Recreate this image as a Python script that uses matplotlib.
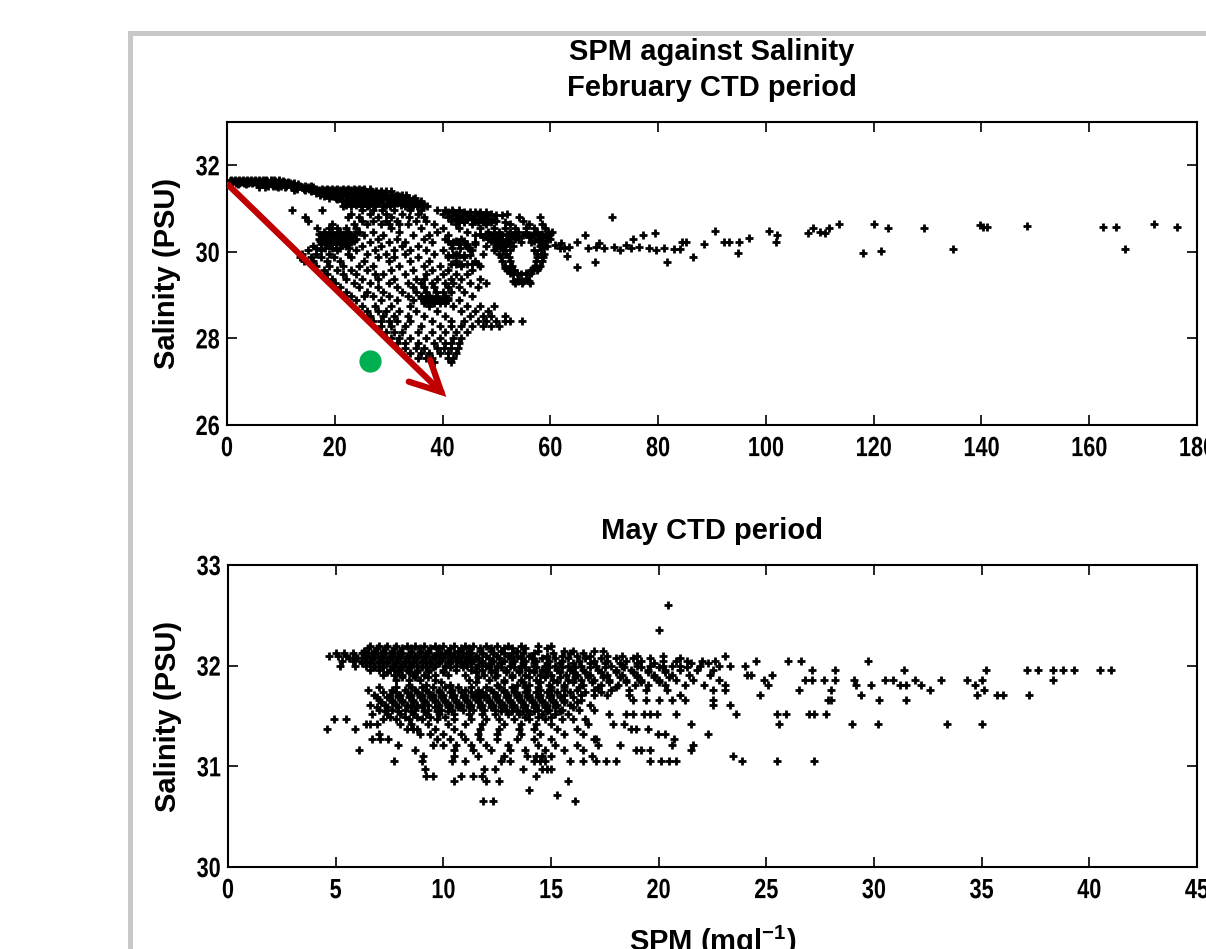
import matplotlib
matplotlib.use("Agg")
import matplotlib.pyplot as plt
from matplotlib.patches import Rectangle, FancyArrowPatch, ArrowStyle
from matplotlib.patheffects import AbstractPathEffect
from matplotlib.transforms import Affine2D

FONT = ['Liberation Sans', 'DejaVu Sans']
plt.rcParams['font.family'] = FONT
plt.rcParams['font.weight'] = 'bold'
plt.rcParams['mathtext.fontset'] = 'custom'
plt.rcParams['mathtext.rm'] = 'Liberation Sans:bold'
plt.rcParams['mathtext.bf'] = 'Liberation Sans:bold'

# ---------------- February CTD period (SPM mg/l vs salinity PSU) ----------------
feb_sal_levels = [31.66, 31.61, 31.56, 31.49, 31.43, 31.36, 31.29, 31.21, 31.13, 31.05,
                  30.96, 30.88, 30.80, 30.72, 30.64, 30.55, 30.47, 30.38, 30.30, 30.22,
                  30.14, 30.05, 29.96, 29.87, 29.78, 29.68, 29.58, 29.48, 29.38, 29.29,
                  29.18, 29.08, 28.98, 28.88, 28.76, 28.64, 28.52, 28.40, 28.28, 28.15,
                  28.02, 27.90, 27.78, 27.66, 27.55, 27.45,
                  31.63, 31.58, 31.52, 31.46, 31.40, 31.32, 31.25, 31.17, 31.09,
                  30.42, 30.34, 30.26, 30.18, 30.10, 30.92, 30.84, 30.76, 30.68,
                  28.93, 28.82, 29.72, 29.92, 29.33, 29.52, 29.62]
feb_spm_rows = [
    [0.8, 1.5, 2.2, 3.0, 3.7, 4.4, 5.2, 5.9, 6.6, 7.3, 8.1, 8.8, 9.6],
    [1.0, 1.8, 2.6, 3.4, 4.2, 5.0, 5.8, 6.6, 7.4, 8.2, 9.0, 9.8, 10.6, 11.4],
    [2.0, 3.5, 5.5, 6.4, 7.2, 8.4, 9.4, 10.5, 11.5, 12.3, 13.2],
    [6.0, 7.0, 9.5, 10.8, 12.0, 13.0, 14.0, 15.0, 16.0],
    [12.5, 14.5, 15.8, 17.0, 18.2, 19.0, 20.0, 21.0, 22.0, 23.0, 24.0, 25.0],
    [16.5, 17.5, 18.5, 19.8, 21.2, 22.5, 23.3, 24.2, 25.2, 26.2, 27.0, 28.0, 29.0],
    [18.0, 19.5, 21.0, 22.2, 23.0, 23.8, 24.6, 25.4, 26.3, 27.2, 28.2, 29.3, 30.3, 31.2, 32.0],
    [20.5, 22.0, 23.0, 23.8, 24.6, 25.5, 26.5, 27.5, 29.0, 30.5, 31.5, 32.5, 33.5, 34.5],
    [22.5, 23.5, 24.5, 25.5, 26.8, 28.0, 30.0, 31.5, 32.8, 33.8, 34.8, 35.8],
    [21.5, 23.0, 24.8, 26.0, 27.5, 29.0, 30.2, 33.0, 34.2, 35.2, 36.4, 37.2],
    [12.0, 17.6, 25.0, 27.0, 28.8, 31.0, 34.0, 36.0, 39.0, 40.5, 41.8, 43.0],
    [23.0, 26.5, 29.5, 32.5, 35.5, 40.0, 42.5, 44.5, 46.5, 49.0, 52.0],
    [14.5, 22.5, 24.5, 28.0, 30.5, 33.8, 36.5, 41.0, 43.5, 45.0, 47.5, 54.2, 58.0],
    [15.1, 25.0, 27.0, 29.5, 31.5, 35.0, 37.0, 41.5, 44.0, 46.0, 50.0, 55.0],
    [19.5, 23.5, 26.0, 28.5, 30.0, 32.0, 33.5, 38.5, 42.5, 45.5, 48.0, 52.5, 56.0, 58.5],
    [16.7, 19.0, 20.5, 22.0, 24.0, 30.5, 36.0, 40.0, 43.0, 47.0, 49.5, 51.5, 53.5, 55.5, 57.0, 59.0],
    [18.0, 19.5, 21.0, 22.5, 24.5, 27.0, 32.0, 39.0, 44.5, 48.5, 50.5, 52.5, 54.0, 55.5, 57.5, 59.5, 60.3],
    [17.5, 18.8, 20.0, 21.5, 23.0, 25.5, 29.0, 34.5, 37.5, 41.0, 46.0, 49.0, 51.0, 53.0, 55.0, 56.5, 58.0, 59.5],
    [17.0, 18.5, 20.5, 22.0, 24.0, 28.0, 31.5, 36.5, 40.5, 43.5, 48.5, 50.0, 51.8, 53.5, 57.5, 60.0],
    [18.0, 19.5, 21.0, 23.0, 26.5, 30.0, 33.0, 38.0, 42.0, 46.0, 49.5, 51.0, 52.5, 54.5, 56.5, 58.5],
    [16.0, 19.0, 22.0, 25.0, 28.5, 32.5, 35.5, 44.5, 48.0, 50.0, 51.5, 53.0, 58.0, 59.3],
    [15.0, 17.5, 20.5, 24.0, 27.5, 31.0, 34.0, 37.0, 40.0, 45.5, 49.5, 51.2, 52.5, 57.0, 58.3],
    [14.0, 16.5, 19.0, 22.5, 26.0, 29.5, 33.0, 38.5, 42.5, 47.5, 50.5, 51.8, 57.5, 58.8],
    [13.6, 15.5, 17.5, 19.8, 23.0, 28.0, 31.0, 35.5, 41.0, 44.0, 50.8, 52.3, 57.5, 58.6],
    [14.2, 16.0, 18.5, 21.0, 25.5, 30.0, 34.0, 37.5, 42.5, 46.0, 51.0, 52.5, 57.4, 58.5],
    [16.5, 19.0, 21.5, 24.5, 27.0, 32.0, 36.5, 39.5, 43.5, 47.0, 51.5, 52.8, 57.2, 58.0],
    [18.0, 20.5, 23.0, 26.0, 30.5, 34.5, 38.0, 41.0, 45.5, 52.0, 53.3, 56.5, 57.5],
    [18.5, 21.5, 24.0, 27.5, 29.0, 33.0, 37.0, 40.0, 42.5, 44.5, 53.0, 54.5, 56.0],
    [19.5, 22.0, 25.0, 28.0, 31.0, 35.0, 36.5, 39.0, 41.5, 43.5, 47.0, 54.0, 55.5],
    [20.0, 23.5, 26.5, 30.0, 33.5, 36.0, 38.0, 40.5, 42.0, 45.0, 48.0, 53.5, 54.8, 56.2],
    [21.0, 24.5, 28.0, 31.5, 34.5, 36.5, 38.5, 41.0, 43.0, 46.5],
    [22.0, 26.0, 29.0, 32.5, 35.0, 37.0, 38.8, 40.0, 41.5, 44.0],
    [23.0, 25.5, 27.0, 30.0, 33.5, 36.0, 37.5, 39.0, 40.5, 45.5],
    [24.0, 28.5, 31.5, 34.5, 36.5, 38.0, 39.5, 41.0, 43.0],
    [25.0, 27.5, 30.5, 34.0, 37.5, 42.0, 44.5, 47.0, 49.5],
    [26.0, 28.0, 29.5, 32.0, 35.0, 39.0, 43.5, 46.0, 48.5],
    [26.5, 29.0, 31.0, 33.5, 36.5, 40.5, 45.0, 47.5, 49.0, 51.5],
    [27.0, 28.5, 30.0, 31.5, 34.0, 38.0, 41.5, 44.0, 46.5, 48.0, 50.0, 51.5, 52.5, 54.7],
    [28.5, 30.5, 33.0, 36.0, 39.5, 41.5, 43.5, 45.5, 47.5, 49.0, 50.5],
    [29.5, 31.0, 32.5, 35.5, 38.0, 40.5, 42.5, 44.5],
    [30.5, 32.0, 34.0, 37.0, 39.5, 42.0, 43.5],
    [31.5, 33.0, 35.5, 38.5, 40.5, 41.5, 43.0],
    [33.0, 35.0, 36.5, 39.0, 40.2, 41.5, 42.8],
    [34.0, 36.0, 37.5, 39.5, 41.0, 42.5],
    [35.5, 37.0, 38.0, 41.0, 42.0],
    [38.5, 41.5],
    [0.5, 1.2, 1.9, 2.6, 3.3, 4.0, 4.7, 5.4, 6.1, 6.8, 7.5, 8.2, 8.9, 9.6, 10.3],
    [0.9, 1.6, 2.3, 3.1, 3.9, 4.7, 5.5, 6.2, 7.0, 7.8, 8.6, 9.3, 10.1, 10.9, 11.7, 12.5],
    [7.7, 8.5, 9.0, 10.0, 11.0, 11.8, 12.6, 13.5, 14.5, 15.5],
    [13.0, 14.2, 15.3, 16.5, 17.6, 18.6, 19.5, 20.5, 21.5, 22.5, 23.5, 24.5, 25.5, 26.5],
    [15.5, 16.8, 17.8, 19.0, 20.2, 21.6, 22.8, 23.7, 24.7, 25.7, 26.7, 27.6, 28.5, 29.5, 30.5],
    [17.2, 18.2, 19.2, 20.4, 22.0, 22.9, 23.7, 24.5, 25.3, 26.0, 26.8, 27.6, 28.6, 29.6, 30.6, 31.6, 32.5, 33.2],
    [19.0, 20.3, 22.6, 23.4, 24.2, 25.0, 25.8, 26.7, 27.8, 28.8, 29.8, 30.8, 31.8, 32.8, 33.8, 34.8],
    [21.3, 22.8, 23.6, 24.4, 25.2, 26.0, 26.9, 28.4, 30.0, 31.0, 32.0, 33.0, 34.0, 35.0, 36.0],
    [22.0, 24.0, 25.0, 26.4, 27.0, 29.5, 31.0, 32.3, 33.5, 34.5, 35.5, 36.5],
    [17.0, 18.2, 19.2, 20.6, 21.8, 22.6, 23.5, 47.0, 48.0, 49.5, 50.5, 52.0, 53.5, 55.5, 57.0, 58.5, 60.0],
    [17.8, 19.0, 20.2, 21.2, 22.4, 23.4, 47.5, 49.5, 50.5, 52.5, 54.0, 56.0, 58.5, 59.5],
    [17.2, 18.2, 19.2, 20.0, 21.5, 22.5, 23.6, 41.0, 42.5, 44.0, 49.0, 50.5, 52.0, 57.0, 58.0, 59.0],
    [17.5, 18.6, 20.2, 21.4, 22.5, 41.5, 43.0, 44.5, 46.0, 50.5, 51.8, 58.3],
    [16.5, 18.2, 19.5, 21.0, 22.6, 41.8, 43.2, 44.8, 50.0, 51.0, 58.5],
    [41.0, 42.0, 44.0, 45.0, 46.0, 47.0, 48.0],
    [42.0, 43.0, 44.0, 46.0, 48.0, 50.0, 51.0],
    [42.5, 44.5, 45.5, 47.0, 48.5, 49.5],
    [43.0, 44.0, 46.5, 47.5, 49.0, 51.5],
    [36.0, 37.0, 38.0, 39.0, 40.0, 41.0],
    [36.5, 37.5, 38.5, 39.5, 40.5],
    [41.5, 42.5, 43.5, 44.5, 45.5, 46.5],
    [41.0, 42.0, 43.0, 44.0, 45.0],
    [53.0, 54.0, 55.0, 56.0],
    [52.5, 53.8, 55.5, 56.5],
    [51.5, 52.5, 56.8, 57.8],
]
feb_tail_spm = [60.8, 61.8, 62.0, 62.5, 63.0, 63.5, 64.9, 64.9, 66.4, 67.0, 68.2, 68.5, 69.0,
                70.0, 71.5, 71.9, 73.0, 74.0, 75.0, 75.3, 76.5, 77.2, 78.4, 79.4, 79.6,
                81.0, 81.6, 83.0, 84.1, 84.5, 85.2, 86.4, 88.6, 90.6, 92.2, 93.2, 94.9,
                95.1, 96.8, 100.6, 101.8, 102.1, 107.9, 108.8, 110.0, 110.9, 111.8, 113.5,
                118.1, 120.1, 121.4, 122.7, 129.4, 134.7, 139.8, 140.3, 141.0, 148.5,
                162.5, 165.0, 166.6, 172.0, 176.2]
feb_tail_sal = [30.15, 30.08, 30.20, 30.10, 29.90, 30.12, 30.23, 29.64, 30.39, 30.10, 29.77, 30.12, 30.20,
                30.10, 30.80, 30.12, 30.05, 30.15, 30.08, 30.29, 30.12, 30.39, 30.08, 30.44, 30.05,
                30.10, 29.77, 30.06, 30.06, 30.23, 30.23, 29.87, 30.18, 30.49, 30.23, 30.23, 29.98,
                30.23, 30.33, 30.49, 30.23, 30.39, 30.43, 30.54, 30.47, 30.43, 30.54, 30.64,
                29.98, 30.64, 30.03, 30.54, 30.54, 30.07, 30.62, 30.58, 30.58, 30.60,
                30.58, 30.58, 30.07, 30.64, 30.58]

# ---------------- May CTD period ----------------
may_sal_levels = [32.20, 32.15, 32.10, 32.05, 32.00, 31.96, 31.91, 31.86, 31.81, 31.76,
                  31.71, 31.66, 31.61, 31.56, 31.52, 31.47, 31.42, 31.37, 31.32, 31.27,
                  31.21, 31.16, 31.10, 31.05, 30.97, 30.90, 30.85, 30.76, 30.72, 30.66,
                  32.60, 32.35,
                  32.175, 32.125, 32.075, 32.025, 31.985, 31.935, 31.885, 31.835,
                  31.785, 31.735, 31.685, 31.635, 31.585, 31.545, 31.495]
may_spm_rows = [
    [6.6, 7.0, 7.4, 7.8, 8.3, 8.7, 9.1, 9.6, 10.0, 10.5, 11.0, 11.4, 12.0, 12.5, 13.0, 13.6, 14.4, 15.0],
    [6.3, 6.8, 7.2, 7.6, 8.0, 8.5, 8.9, 9.3, 9.8, 10.2, 10.7, 11.2, 11.7, 12.2, 12.7, 13.4, 14.4, 15.6, 16.0, 17.0, 17.4],
    [4.7, 5.1, 5.5, 5.9, 6.3, 6.7, 7.1, 7.5, 7.9, 8.3, 8.7, 9.1, 9.5, 9.9, 10.3, 10.7, 11.1, 11.5, 12.0, 12.5,
     13.0, 13.4, 14.0, 14.8, 15.5, 16.2, 16.8, 17.6, 18.3, 19.0, 20.2, 23.1],
    [5.3, 5.8, 6.2, 6.6, 7.0, 7.4, 7.8, 8.2, 8.6, 9.0, 9.4, 9.8, 10.2, 10.6, 11.0, 11.4, 11.8, 12.3, 12.8, 13.3,
     13.8, 14.3, 14.9, 15.5, 16.3, 17.0, 17.6, 18.5, 19.2, 20.2, 20.8, 21.3, 22.0, 22.6, 24.5, 26.0, 26.6, 29.7],
    [5.2, 5.9, 6.4, 6.8, 7.2, 7.6, 8.0, 8.4, 8.8, 9.2, 9.6, 10.1, 10.6, 11.1, 11.6, 12.0, 12.5, 13.1, 13.6, 14.2,
     14.7, 15.2, 15.8, 16.4, 17.1, 17.8, 18.3, 19.0, 19.6, 20.2, 20.6, 21.0, 21.9, 22.8, 23.3, 24.0],
    [6.6, 7.0, 7.5, 7.9, 8.3, 8.8, 9.3, 10.0, 10.6, 11.3, 11.8, 12.4, 12.9, 13.5, 14.0, 14.6, 15.3, 15.9, 16.5,
     17.2, 18.0, 18.7, 19.5, 20.3, 21.0, 21.8, 22.5, 27.1, 28.2, 31.4, 35.2, 37.1, 37.6, 38.3, 38.8, 39.3, 40.5, 41.0],
    [7.2, 7.7, 8.1, 8.6, 9.1, 9.6, 10.2, 11.0, 11.9, 12.5, 13.2, 13.8, 14.5, 15.0, 15.7, 16.2, 16.8, 17.6, 18.3,
     19.0, 19.8, 20.6, 21.4, 22.4, 24.1, 24.3, 25.25],
    [7.8, 8.4, 8.9, 9.6, 11.2, 12.1, 12.8, 13.6, 14.3, 15.1, 15.8, 16.4, 17.0, 17.7, 18.5, 19.2, 20.0, 20.8,
     21.6, 22.8, 24.9, 26.8, 27.1, 27.7, 28.2, 29.05, 30.5, 30.9, 31.9, 33.1, 34.3, 35.0, 38.3],
    [8.4, 9.2, 10.3, 12.5, 13.4, 14.0, 14.9, 15.6, 16.5, 17.3, 18.1, 18.9, 19.5, 20.3, 21.2, 22.1, 23.1, 25.1,
     29.15, 29.85, 31.2, 31.5, 32.2, 34.7],
    [6.5, 7.6, 8.2, 8.7, 9.2, 9.8, 10.4, 11.0, 11.6, 12.2, 12.8, 13.3, 13.9, 14.5, 15.0, 15.6, 16.2, 17.0, 17.8,
     18.6, 19.4, 20.4, 22.5, 23.1, 26.5, 28.0, 32.6, 35.1],
    [6.8, 7.5, 8.0, 8.5, 9.0, 9.5, 10.0, 10.5, 11.0, 11.5, 11.7, 12.0, 12.5, 13.0, 13.5, 14.0, 14.5, 15.0, 15.6,
     16.4, 17.0, 17.6, 18.6, 21.0, 24.7, 29.4, 34.8, 35.7, 36.0, 37.2],
    [7.0, 7.6, 8.1, 8.6, 9.1, 9.6, 10.1, 10.6, 11.1, 11.6, 12.1, 12.6, 13.1, 13.6, 14.1, 14.6, 15.1, 15.6, 16.4,
     18.8, 19.4, 20.0, 20.6, 21.2, 22.5, 27.85, 28.0, 30.25, 31.5],
    [6.6, 7.3, 7.8, 8.3, 8.8, 9.3, 9.8, 10.3, 10.8, 11.3, 11.8, 12.3, 12.8, 13.3, 13.8, 14.3, 14.8, 15.3, 15.9,
     16.8, 22.5, 23.3],
    [7.0, 7.6, 8.2, 8.7, 9.3, 9.9, 10.4, 10.9, 11.4, 11.9, 12.4, 12.9, 13.4, 13.9, 14.4, 14.9, 15.5, 16.3, 17.0],
    [6.7, 7.4, 8.0, 8.6, 9.2, 9.8, 10.5, 11.2, 11.8, 12.4, 13.0, 13.5, 14.0, 14.6, 15.2, 15.8, 17.7, 18.5, 18.8,
     19.3, 19.6, 19.9, 20.8, 23.6, 25.5, 25.9, 27.0, 27.2, 27.75],
    [4.9, 5.5, 7.2, 7.8, 8.4, 9.0, 9.7, 10.5, 11.3, 12.0, 12.6, 13.3, 14.0, 14.7, 15.5, 16.0, 16.6],
    [6.4, 6.6, 6.9, 8.0, 8.5, 9.3, 10.2, 11.0, 11.8, 12.8, 13.6, 14.3, 15.0, 16.7, 17.9, 18.4, 21.5, 25.6,
     29.0, 30.2, 33.4, 35.0],
    [4.6, 5.9, 8.3, 8.6, 8.8, 9.6, 10.5, 11.7, 12.6, 13.5, 14.2, 15.3, 16.2, 18.7, 18.95, 19.5],
    [7.0, 8.9, 9.4, 10.0, 10.8, 11.6, 12.5, 13.6, 14.5, 15.6, 16.5, 19.97, 20.3, 22.3],
    [6.7, 7.05, 7.44, 9.7, 10.3, 11.0, 11.7, 12.5, 13.4, 14.2, 15.0, 17.0, 17.1, 20.7],
    [7.9, 9.5, 10.0, 10.6, 11.3, 12.0, 13.0, 14.4, 15.2, 16.2, 17.2, 18.2, 20.6, 21.6],
    [6.1, 8.7, 10.5, 11.4, 12.2, 13.1, 13.8, 14.7, 15.6, 16.5, 18.95, 19.2, 19.6, 21.5],
    [9.07, 10.5, 11.6, 12.8, 13.9, 14.3, 14.6, 15.0, 16.9, 23.45],
    [7.7, 9.0, 10.4, 11.0, 12.7, 13.1, 14.2, 14.5, 14.7, 15.9, 16.5, 17.1, 17.55, 18.0, 19.6, 20.1, 20.5, 20.8,
     23.86, 25.5, 27.2],
    [9.15, 11.9, 12.4, 13.7, 14.6, 14.8, 15.0],
    [9.2, 9.5, 10.8, 11.4, 11.8, 14.3],
    [10.5, 12.0, 12.6, 15.8],
    [14.0],
    [15.3],
    [11.86, 12.3, 16.1],
    [20.43],
    [20.0],
    [6.5, 6.9, 7.3, 7.7, 8.1, 8.5, 8.9, 9.4, 9.8, 10.3, 10.8, 11.2, 11.7, 12.2, 12.8, 13.2, 13.8, 14.8],
    [5.0, 5.4, 5.8, 6.2, 6.5, 6.9, 7.3, 7.7, 8.1, 8.5, 8.9, 9.3, 9.7, 10.1, 10.5, 10.9, 11.3, 11.8, 12.3,
     12.8, 13.2, 13.7, 14.2, 15.1, 15.9, 16.5],
    [5.6, 6.0, 6.4, 6.8, 7.2, 7.6, 8.0, 8.4, 8.8, 9.2, 9.6, 10.0, 10.4, 10.8, 11.2, 11.6, 12.1, 12.6, 13.1,
     13.6, 14.1, 14.6, 15.2, 15.8, 16.6, 17.3, 18.0, 18.8, 19.6, 21.0],
    [6.2, 6.6, 7.0, 7.4, 7.8, 8.2, 8.6, 9.0, 9.4, 9.8, 10.3, 10.8, 11.3, 11.8, 12.2, 12.7, 13.2, 13.7, 14.2,
     14.8, 15.4, 16.0, 16.8, 17.5, 18.2, 19.0, 19.8, 21.5, 22.3],
    [6.8, 7.2, 7.7, 8.1, 8.5, 9.0, 9.5, 10.3, 10.9, 11.5, 12.1, 12.7, 13.3, 13.8, 14.3, 14.9, 15.5, 16.1,
     16.8, 17.5, 18.4, 19.2, 20.0, 21.3],
    [7.4, 7.9, 8.4, 8.8, 9.3, 10.0, 11.5, 12.2, 12.9, 13.5, 14.2, 14.8, 15.4, 16.0, 16.6, 17.3, 18.0, 18.8,
     19.5, 20.3],
    [8.1, 8.7, 9.3, 11.6, 12.4, 13.2, 14.0, 14.7, 15.4, 16.1, 16.7, 17.4, 18.2, 19.0, 19.8, 20.5],
    [9.9, 11.5, 12.8, 13.7, 14.5, 15.3, 16.0, 16.9, 17.7, 18.5, 19.2, 20.0],
    [7.0, 7.8, 8.5, 9.0, 9.5, 10.1, 10.7, 11.3, 12.0, 12.6, 13.2, 13.8, 14.4, 15.0, 15.6, 16.3, 17.2, 18.0],
    [7.2, 7.8, 8.3, 8.8, 9.3, 9.8, 10.3, 10.8, 11.3, 11.8, 12.3, 12.8, 13.3, 13.8, 14.3, 14.8, 15.3, 15.9,
     16.6, 17.3],
    [6.9, 7.4, 7.9, 8.4, 8.9, 9.4, 9.9, 10.4, 10.9, 11.4, 11.9, 12.4, 12.9, 13.4, 13.9, 14.4, 14.9, 15.4, 16.0],
    [7.1, 7.6, 8.1, 8.6, 9.1, 9.6, 10.1, 10.6, 11.1, 11.6, 12.1, 12.6, 13.1, 13.6, 14.1, 14.6, 15.1, 15.6, 16.2],
    [6.9, 7.4, 7.9, 8.5, 9.0, 9.6, 10.2, 10.7, 11.2, 11.7, 12.2, 12.7, 13.2, 13.7, 14.2, 14.7, 15.2, 16.0],
    [7.3, 7.9, 8.5, 9.1, 9.7, 10.2, 12.7, 13.2, 13.7, 14.2, 14.8, 15.4],
    [7.5, 8.2, 8.8, 9.4, 10.1, 13.8, 14.4, 15.0],
]

feb_spm = [v for row in feb_spm_rows for v in row] + feb_tail_spm
feb_sal = [s for s, row in zip(feb_sal_levels, feb_spm_rows) for _ in row] + feb_tail_sal
may_spm = [v for row in may_spm_rows for v in row]
may_sal = [s for s, row in zip(may_sal_levels, may_spm_rows) for _ in row]

# annotations drawn over the February panel
arrow_start = (0.2, 31.55)
arrow_end = (40.7, 26.65)
dot_point = (26.6, 27.48)

feb_xticks = [0, 20, 40, 60, 80, 100, 120, 140, 160, 180]
feb_yticks = [26, 28, 30, 32]
may_xticks = [0, 5, 10, 15, 20, 25, 30, 35, 40, 45]
may_yticks = [30, 31, 32, 33]


class Squeeze(AbstractPathEffect):
    """Horizontally condense glyphs (MATLAB-like narrow bold labels)."""
    def __init__(self, sx, anchor='center'):
        super().__init__()
        self.sx = sx
        self.anchor = anchor

    def draw_path(self, renderer, gc, tpath, affine, rgbFace=None):
        ext = tpath.get_extents()
        if self.anchor == 'right':
            cx = ext.x1
        elif self.anchor == 'left':
            cx = ext.x0
        else:
            cx = 0.5 * (ext.x0 + ext.x1)
        t = Affine2D().translate(-cx, 0).scale(self.sx, 1).translate(cx, 0) + affine
        renderer.draw_path(gc, tpath, t, rgbFace)


W, H = 1206, 949
fig = plt.figure(figsize=(W / 100, H / 100), dpi=100)
fig.patch.set_facecolor('white')


def px_rect(l, t, r, b):
    return [l / W, 1 - b / H, (r - l) / W, (b - t) / H]


# grey window frame
fig.add_artist(Rectangle((128 / W, 0), 5 / W, 1 - 31 / H, transform=fig.transFigure,
                         facecolor='#c8c8c8', edgecolor='none'))
fig.add_artist(Rectangle((128 / W, 1 - 36 / H), 1 - 128 / W, 5 / H, transform=fig.transFigure,
                         facecolor='#c8c8c8', edgecolor='none'))

TICK_FS = 20
LAB_FS = 21
SQ = 0.78
MS, MEW = 5.8, 2.0


def style(ax, xt, yt, xlim, ylim):
    ax.set_xlim(*xlim)
    ax.set_ylim(*ylim)
    ax.set_xticks(xt)
    ax.set_yticks(yt)
    ax.set_xticklabels([str(v) for v in xt])
    ax.set_yticklabels([str(v) for v in yt])
    ax.tick_params(direction='in', length=7, width=1.2, top=True, right=True,
                   labelsize=TICK_FS, pad=5)
    ax.tick_params(axis='x', pad=8)
    for lab in ax.get_xticklabels():
        lab.set_fontweight('bold')
        lab.set_path_effects([Squeeze(SQ, 'center')])
    for lab in ax.get_yticklabels():
        lab.set_fontweight('bold')
        lab.set_path_effects([Squeeze(SQ, 'right')])
    for sp in ax.spines.values():
        sp.set_linewidth(1.5)
    ax.set_ylabel('Salinity (PSU)', fontsize=LAB_FS, fontweight='bold', labelpad=6)


ax1 = fig.add_axes(px_rect(227, 122, 1197, 425))
ax1.plot(feb_spm, feb_sal, '+', color='black', ms=MS, mew=MEW, clip_on=True)
style(ax1, feb_xticks, feb_yticks, (0, 180), (26, 33))

arr = FancyArrowPatch(arrow_start, arrow_end, transform=ax1.transData,
                      arrowstyle=ArrowStyle('->', head_length=22, head_width=11),
                      mutation_scale=1, color='#c00000', lw=4.5, zorder=5,
                      shrinkA=0, shrinkB=0, capstyle='round', joinstyle='miter')
ax1.add_patch(arr)
ax1.plot([dot_point[0]], [dot_point[1]], 'o', color='#00b050', ms=16, mec='none', zorder=6)

ax2 = fig.add_axes(px_rect(228, 565, 1197, 867))
ax2.plot(may_spm, may_sal, '+', color='black', ms=MS, mew=MEW, clip_on=True)
style(ax2, may_xticks, may_yticks, (0, 45), (30, 33))
ax2.set_xlabel(r'SPM (mgl$^{\mathbf{-1}}$)', fontsize=LAB_FS, fontweight='bold', labelpad=14)

cx = (227 + 1197) / 2 / W
fig.text(cx, 1 - 52 / H, 'SPM against Salinity', ha='center', va='center', fontsize=LAB_FS, fontweight='bold')
fig.text(cx, 1 - 88 / H, 'February CTD period', ha='center', va='center', fontsize=LAB_FS, fontweight='bold')
fig.text(cx, 1 - 531 / H, 'May CTD period', ha='center', va='center', fontsize=LAB_FS, fontweight='bold')

fig.savefig('out.png', dpi=100, facecolor='white')
